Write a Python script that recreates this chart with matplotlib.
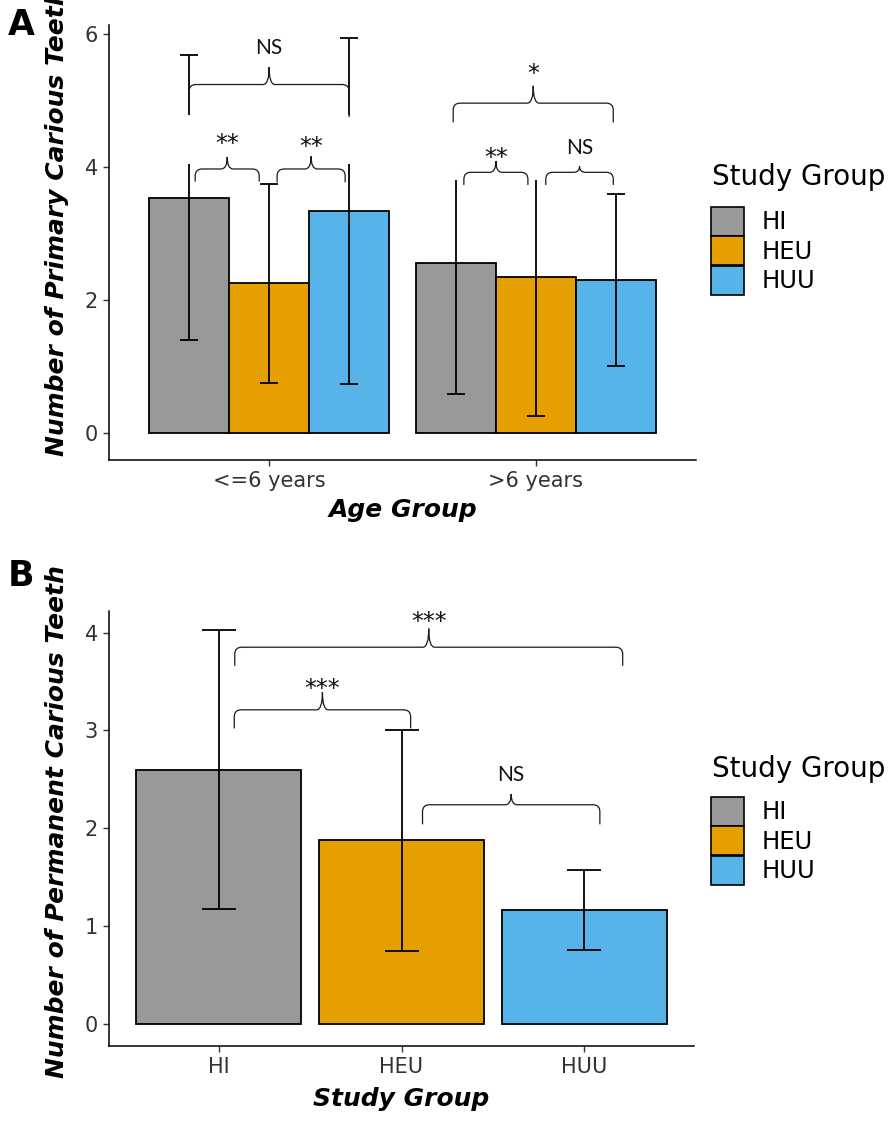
import numpy as np
import matplotlib
matplotlib.use("Agg")
import matplotlib.pyplot as plt
from matplotlib.patches import Patch, Rectangle, PathPatch
from matplotlib.path import Path
from matplotlib.transforms import Bbox, TransformedBbox, offset_copy

# ── Data ──────────────────────────────────────────────────────────────────────
groups      = ["HI", "HEU", "HUU"]
colors      = ["#999999", "#E69F00", "#56B4E9"]
age_groups  = ["<=6 years", ">6 years"]

# panel A: mean and SD of primary carious teeth, rows = study group
primary_mean = [[3.54, 2.56], [2.25, 2.34], [3.34, 2.30]]
primary_sd   = [[2.14, 1.97], [1.50, 2.08], [2.60, 1.29]]

# panel B: permanent carious teeth
permanent_mean = [2.60, 1.875, 1.165]
permanent_sd   = [1.43, 1.125, 0.41]

# significance braces: x0, x1, left leg bottom, right leg bottom, bar y, tip y, label, label y
braces_A = [
    (0.723, 0.963, 3.78, 3.78, 3.97, 4.15, "**", 4.46),
    (1.030, 1.285, 3.77, 3.77, 3.97, 4.16, "**", 4.41),
    (0.700, 1.300, 4.82, 4.75, 5.24, 5.50, "NS", 5.81),
    (1.730, 1.970, 3.73, 3.73, 3.92, 4.09, "**", 4.24),
    (2.037, 2.290, 3.73, 3.73, 3.92, 4.01, "NS", 4.31),
    (1.690, 2.290, 4.67, 4.67, 4.96, 5.22, "*", 5.51),
]
braces_B = [
    (1.088, 3.210, 3.66, 3.66, 3.85, 4.04, "***", 4.18),
    (1.085, 2.050, 3.02, 3.02, 3.21, 3.39, "***", 3.50),
    (2.115, 3.085, 2.04, 2.04, 2.24, 2.35, "NS", 2.56),
]
# white label areas of panel A that cover the error bars: x0, x1, y0, y1
covers_A = [(0.66, 1.34, 4.04, 4.78), (1.66, 2.33, 3.80, 4.62)]

# ── Helpers ───────────────────────────────────────────────────────────────────
W, H = 896, 1122
fig = plt.figure(figsize=(W / 100, H / 100), dpi=100)

TICK_FS  = 15
TITLE_FS = 18


def px_axes(left, top, right, bottom):
    return fig.add_axes([left / W, 1 - bottom / H, (right - left) / W, (bottom - top) / H])


def style_axes(ax):
    for s in ["top", "right"]:
        ax.spines[s].set_visible(False)
    for s in ["left", "bottom"]:
        ax.spines[s].set_linewidth(1.1)
        ax.spines[s].set_color("black")
    ax.tick_params(length=4, width=1.0, color="#333333", labelcolor="#333333",
                   labelsize=TICK_FS, pad=4)


def draw_brace(ax, x0, x1, yb0, yb1, yh, yt, label, ylab):
    (ox, oy), (px, py) = ax.transData.transform([(0, 0), (1, 1)])
    ux, uy = px - ox, py - oy                # px per data unit
    rx, ry = 7 / ux, 7 / uy
    tx = 6 / ux
    xm = (x0 + x1) / 2
    verts = [(x0, yb0), (x0, yh - ry), (x0, yh), (x0 + rx, yh),
             (xm - tx, yh), (xm, yh), (xm, yt),
             (xm, yh), (xm + tx, yh),
             (x1 - rx, yh), (x1, yh), (x1, yh - ry), (x1, yb1)]
    codes = [Path.MOVETO, Path.LINETO, Path.CURVE3, Path.CURVE3,
             Path.LINETO, Path.CURVE3, Path.CURVE3,
             Path.CURVE3, Path.CURVE3,
             Path.LINETO, Path.CURVE3, Path.CURVE3, Path.LINETO]
    ax.add_patch(PathPatch(Path(verts, codes), fill=False, lw=0.9,
                           edgecolor="#1a1a1a", zorder=5))
    if "*" in label:
        fs, fam, rise = 17, "DejaVu Sans", 0.60
    else:
        fs, fam, rise = 15, "Lato", 0.36
    tr = offset_copy(ax.transData, fig=fig, y=-rise * fs, units="points")
    ax.text(xm, ylab, label, ha="center", va="baseline", fontsize=fs,
            family=fam, color="#111111", zorder=6, transform=tr)


def add_legend(ax, title_y, key_top):
    fig.text(712 / W, 1 - title_y / H, "Study Group", fontsize=20,
             ha="left", va="center", color="black")
    handles = [Patch(facecolor=c, edgecolor="black", lw=1.2) for c in colors]
    ax.legend(handles, groups, loc="upper left",
              bbox_to_anchor=(711 / W, 1 - key_top / H), bbox_transform=fig.transFigure,
              frameon=False, borderpad=0, borderaxespad=0, fontsize=17.5,
              handlelength=1.35, handleheight=1.45, labelspacing=0.02,
              handletextpad=0.75)


# ── Panel A ───────────────────────────────────────────────────────────────────
axA = px_axes(109, 25, 696, 460)
style_axes(axA)
axA.set_xlim(0.4, 2.6)
axA.set_ylim(-0.406, 6.135)

x_age = np.arange(1, len(age_groups) + 1)
width = 0.3
for i, g in enumerate(groups):
    xs = x_age + (i - 1) * width
    axA.bar(xs, primary_mean[i], width=width, color=colors[i],
            edgecolor="black", lw=1.3, zorder=2)
    axA.errorbar(xs, primary_mean[i], yerr=primary_sd[i], fmt="none",
                 ecolor="black", elinewidth=1.3, capsize=6.8, capthick=1.3, zorder=3)

for x0, x1, y0, y1 in covers_A:
    axA.add_patch(Rectangle((x0, y0), x1 - x0, y1 - y0, facecolor="white",
                            edgecolor="none", zorder=4))
for b in braces_A:
    draw_brace(axA, *b)

axA.set_xticks(x_age)
axA.set_xticklabels(age_groups)
axA.set_yticks([0, 2, 4, 6])
axA.set_xlabel("Age Group", fontsize=TITLE_FS, fontweight="bold", style="italic",
               labelpad=5)
axA.set_ylabel("Number of Primary Carious Teeth", fontsize=TITLE_FS,
               fontweight="bold", style="italic")
axA.yaxis.set_label_coords(-0.068, 0.547)
add_legend(axA, 177, 207)

# ── Panel B ───────────────────────────────────────────────────────────────────
axB = px_axes(109, 611, 694, 1046)
style_axes(axB)
axB.set_xlim(0.4, 3.6)
axB.set_ylim(-0.225, 4.22)

x_grp = np.arange(1, len(groups) + 1)
axB.bar(x_grp, permanent_mean, width=0.9, color=colors, edgecolor="black",
        lw=1.3, zorder=2)
axB.errorbar(x_grp, permanent_mean, yerr=permanent_sd, fmt="none", ecolor="black",
             elinewidth=1.3, capsize=12, capthick=1.3, zorder=3)
for b in braces_B:
    draw_brace(axB, *b)

axB.set_xticks(x_grp)
axB.set_xticklabels(groups)
axB.set_yticks([0, 1, 2, 3, 4])
axB.set_xlabel("Study Group", fontsize=TITLE_FS, fontweight="bold", style="italic",
               labelpad=7)
axB.set_ylabel("Number of Permanent Carious Teeth", fontsize=TITLE_FS,
               fontweight="bold", style="italic")
axB.yaxis.set_label_coords(-0.068, 0.515)
axB.yaxis.label.set_clip_box(TransformedBbox(Bbox([[0, 0], [1, 1 - 566 / H]]),
                                             fig.transFigure))
axB.yaxis.label.set_clip_on(True)
add_legend(axB, 769, 797)

# panel tags
fig.text(8 / W, 1 - 25 / H, "A", fontsize=25, fontweight="bold", va="center")
fig.text(8 / W, 1 - 576 / H, "B", fontsize=25, fontweight="bold", va="center")

fig.savefig("out.png", dpi=100)
